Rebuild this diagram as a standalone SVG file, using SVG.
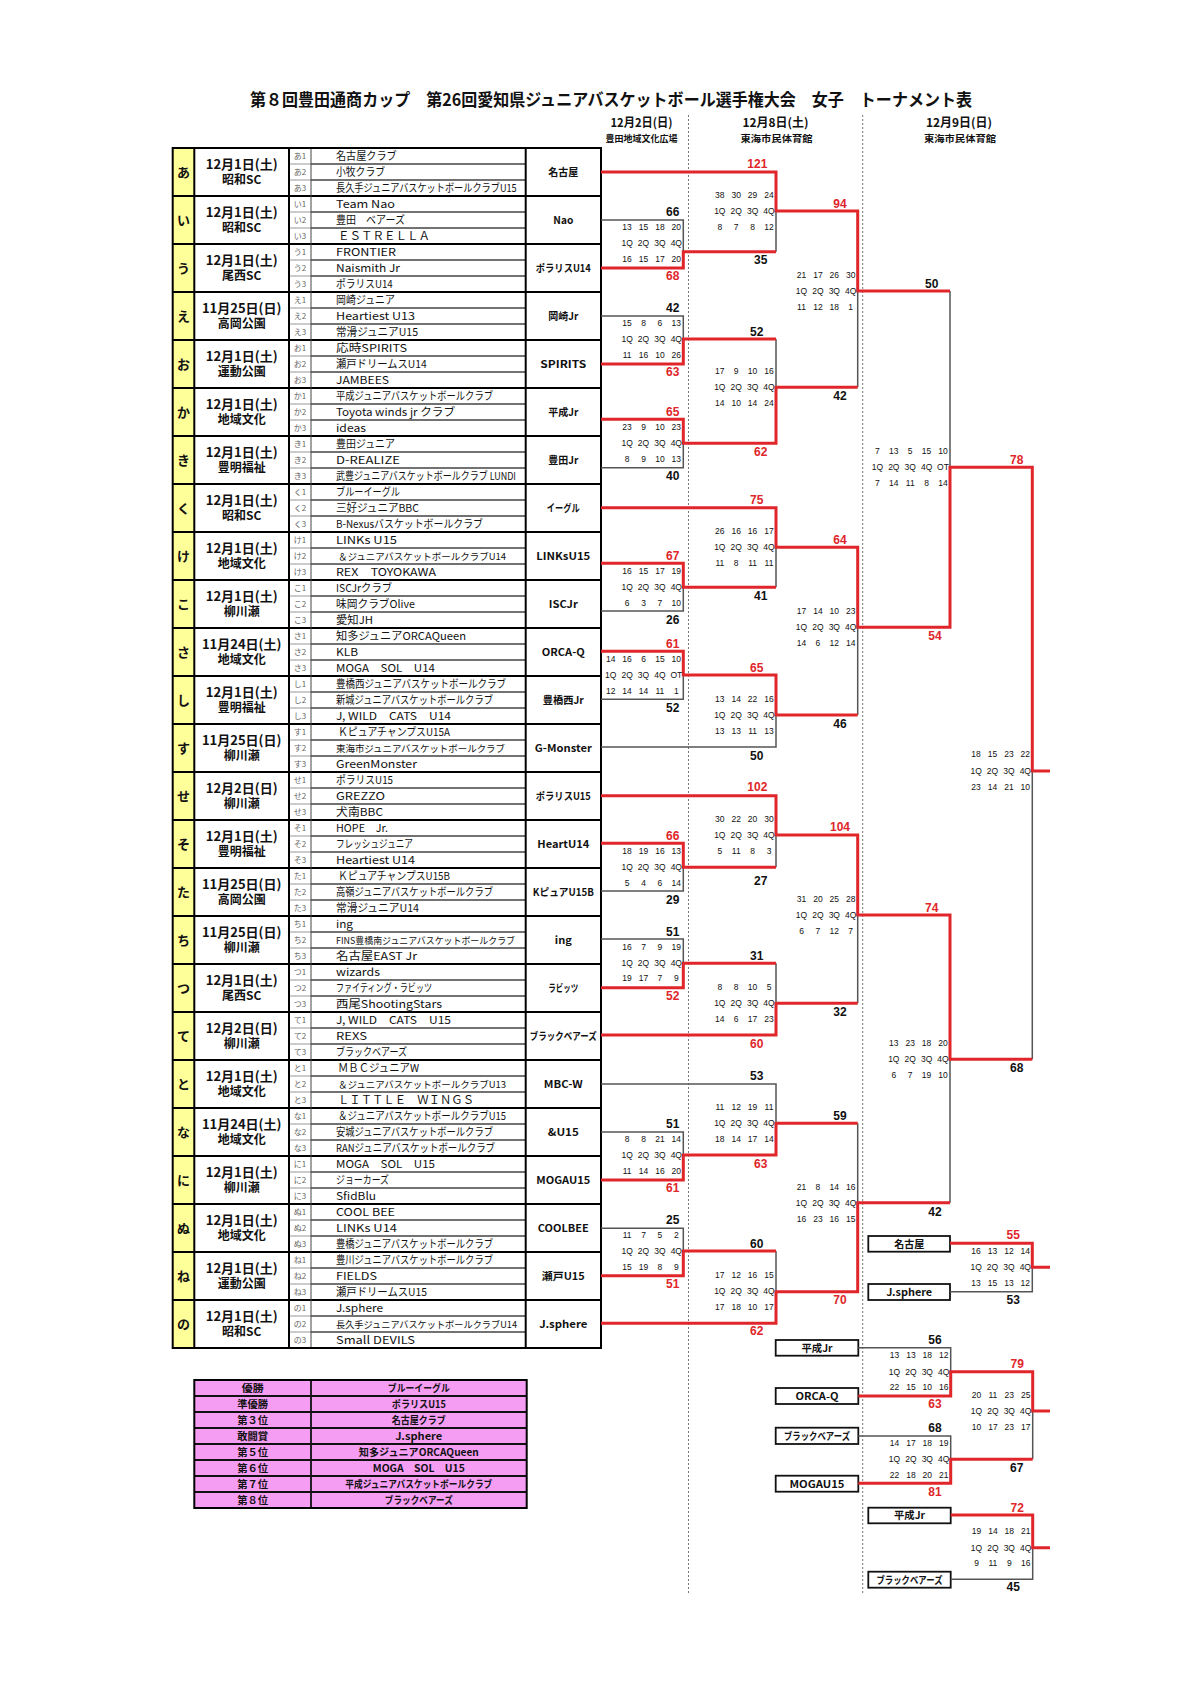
<svg xmlns="http://www.w3.org/2000/svg" width="1190" height="1684" viewBox="0 0 1190 1684">
<style>
text{font-family:"Noto Sans CJK JP","Noto Sans",sans-serif;fill:#111}
.ti{font-size:17px;font-weight:700;text-anchor:middle}
.hd{font-size:12px;font-weight:700;text-anchor:middle}
.hv{font-size:9px;font-weight:700;text-anchor:middle}
.yl{font-size:13px;font-weight:700;text-anchor:middle}
.dt{font-size:13px;font-weight:700;text-anchor:middle}
.vn{font-size:12px}
.cd{font-size:8px;fill:#666;text-anchor:middle}
.nm{font-size:11px}
.nm2{font-size:9.5px}
.ab{font-size:10.5px;font-weight:700;text-anchor:middle}
.rk{font-size:10px;font-weight:700;text-anchor:middle}
.bx{font-size:10px;font-weight:700;text-anchor:middle}
.s{font-family:"Liberation Sans",Arial,sans-serif;font-size:8.5px;fill:#111;text-anchor:middle}
.b{font-family:"Liberation Sans",Arial,sans-serif;font-size:12px;font-weight:700;text-anchor:middle;fill:#111}
.br{font-family:"Liberation Sans",Arial,sans-serif;font-size:12px;font-weight:700;text-anchor:middle;fill:#E0262A}
.lr{fill:none;stroke:#E0262A;stroke-width:3}
.lk{fill:none;stroke:#555;stroke-width:1.5}
.box{fill:#fff;stroke:#111;stroke-width:1.8}
</style>

<g id="header">
<text class="ti" x="611" y="106" textLength="722" lengthAdjust="spacingAndGlyphs">第８回豊田通商カップ　第26回愛知県ジュニアバスケットボール選手権大会　女子　トーナメント表</text>
<text class="hd" x="641.5" y="126.8" textLength="62" lengthAdjust="spacingAndGlyphs">12月2日(日)</text>
<text class="hv" x="641.5" y="141.8" textLength="72" lengthAdjust="spacingAndGlyphs">豊田地域文化広場</text>
<text class="hd" x="775.5" y="126.8" textLength="66" lengthAdjust="spacingAndGlyphs">12月8日(土)</text>
<text class="hv" x="776.5" y="141.8" textLength="72" lengthAdjust="spacingAndGlyphs">東海市民体育館</text>
<text class="hd" x="959" y="126.8" textLength="66" lengthAdjust="spacingAndGlyphs">12月9日(日)</text>
<text class="hv" x="960" y="141.8" textLength="72" lengthAdjust="spacingAndGlyphs">東海市民体育館</text>
<path d="M688.5 115V1595M862.7 115V1595" stroke="#777" stroke-width="1" stroke-dasharray="2 2"/>
</g>

<g id="table-frame">
<rect x="172.7" y="148" width="21.6" height="1200" fill="#FFFF99"/>
<path d="M289 164H311M289 180H311M289 212H311M289 228H311M289 260H311M289 276H311M289 308H311M289 324H311M289 356H311M289 372H311M289 404H311M289 420H311M289 452H311M289 468H311M289 500H311M289 516H311M289 548H311M289 564H311M289 596H311M289 612H311M289 644H311M289 660H311M289 692H311M289 708H311M289 740H311M289 756H311M289 788H311M289 804H311M289 836H311M289 852H311M289 884H311M289 900H311M289 932H311M289 948H311M289 980H311M289 996H311M289 1028H311M289 1044H311M289 1076H311M289 1092H311M289 1124H311M289 1140H311M289 1172H311M289 1188H311M289 1220H311M289 1236H311M289 1268H311M289 1284H311M289 1316H311M289 1332H311" stroke="#999" stroke-width="1" fill="none"/>
<path d="M311 164H525.7M311 180H525.7M311 212H525.7M311 228H525.7M311 260H525.7M311 276H525.7M311 308H525.7M311 324H525.7M311 356H525.7M311 372H525.7M311 404H525.7M311 420H525.7M311 452H525.7M311 468H525.7M311 500H525.7M311 516H525.7M311 548H525.7M311 564H525.7M311 596H525.7M311 612H525.7M311 644H525.7M311 660H525.7M311 692H525.7M311 708H525.7M311 740H525.7M311 756H525.7M311 788H525.7M311 804H525.7M311 836H525.7M311 852H525.7M311 884H525.7M311 900H525.7M311 932H525.7M311 948H525.7M311 980H525.7M311 996H525.7M311 1028H525.7M311 1044H525.7M311 1076H525.7M311 1092H525.7M311 1124H525.7M311 1140H525.7M311 1172H525.7M311 1188H525.7M311 1220H525.7M311 1236H525.7M311 1268H525.7M311 1284H525.7M311 1316H525.7M311 1332H525.7" stroke="#444" stroke-width="1.3" fill="none"/>
<path d="M172.7 196H601M172.7 244H601M172.7 292H601M172.7 340H601M172.7 388H601M172.7 436H601M172.7 484H601M172.7 532H601M172.7 580H601M172.7 628H601M172.7 676H601M172.7 724H601M172.7 772H601M172.7 820H601M172.7 868H601M172.7 916H601M172.7 964H601M172.7 1012H601M172.7 1060H601M172.7 1108H601M172.7 1156H601M172.7 1204H601M172.7 1252H601M172.7 1300H601" stroke="#000" stroke-width="2" fill="none"/>
<path d="M194.3 148V1348M289 148V1348M525.7 148V1348" stroke="#000" stroke-width="2" fill="none"/>
<path d="M311 148V1348" stroke="#444" stroke-width="1" fill="none"/>
<rect x="172.7" y="148" width="428.3" height="1200" fill="none" stroke="#000" stroke-width="2"/>
</g>

<g id="blk-a"><text class="yl" x="183.5" y="176.5">あ</text><text class="dt" x="241.7" y="168.5">12月1日(土)<tspan class="vn" x="241.7" dy="15.5">昭和SC</tspan></text>
<text class="cd" x="300" y="159">あ1</text><text class="cd" x="300" y="175">あ2</text><text class="cd" x="300" y="191">あ3</text>
<text class="nm" x="336" y="160" textLength="60.7" lengthAdjust="spacingAndGlyphs">名古屋クラブ</text><text class="nm" x="336" y="176" textLength="49" lengthAdjust="spacingAndGlyphs">小牧クラブ</text><text class="nm" x="336" y="192" textLength="180.7" lengthAdjust="spacingAndGlyphs">長久手ジュニアバスケットボールクラブU15</text>
<text class="ab" x="563.3" y="176" textLength="30" lengthAdjust="spacingAndGlyphs">名古屋</text></g>

<g id="blk-i"><text class="yl" x="183.5" y="224.5">い</text><text class="dt" x="241.7" y="216.5">12月1日(土)<tspan class="vn" x="241.7" dy="15.5">昭和SC</tspan></text>
<text class="cd" x="300" y="207">い1</text><text class="cd" x="300" y="223">い2</text><text class="cd" x="300" y="239">い3</text>
<text class="nm" x="336" y="208" textLength="59" lengthAdjust="spacingAndGlyphs">Team Nao</text><text class="nm" x="336" y="224" textLength="69" lengthAdjust="spacingAndGlyphs">豊田　ベアーズ</text><text class="nm" x="338" y="240" textLength="92" lengthAdjust="spacingAndGlyphs">ＥＳＴＲＥＬＬＡ</text>
<text class="ab" x="563.3" y="224" textLength="20" lengthAdjust="spacingAndGlyphs">Nao</text></g>

<g id="blk-u"><text class="yl" x="183.5" y="272.5">う</text><text class="dt" x="241.7" y="264.5">12月1日(土)<tspan class="vn" x="241.7" dy="15.5">尾西SC</tspan></text>
<text class="cd" x="300" y="255">う1</text><text class="cd" x="300" y="271">う2</text><text class="cd" x="300" y="287">う3</text>
<text class="nm" x="336" y="256" textLength="60" lengthAdjust="spacingAndGlyphs">FRONTIER</text><text class="nm" x="336" y="272" textLength="64" lengthAdjust="spacingAndGlyphs">Naismith Jr</text><text class="nm" x="336" y="288" textLength="56.7" lengthAdjust="spacingAndGlyphs">ポラリスU14</text>
<text class="ab" x="563.3" y="272" textLength="55" lengthAdjust="spacingAndGlyphs">ポラリスU14</text></g>

<g id="blk-e"><text class="yl" x="183.5" y="320.5">え</text><text class="dt" x="241.7" y="312.5">11月25日(日)<tspan class="vn" x="241.7" dy="15.5">高岡公園</tspan></text>
<text class="cd" x="300" y="303">え1</text><text class="cd" x="300" y="319">え2</text><text class="cd" x="300" y="335">え3</text>
<text class="nm" x="336" y="304" textLength="59" lengthAdjust="spacingAndGlyphs">岡崎ジュニア</text><text class="nm" x="336" y="320" textLength="79" lengthAdjust="spacingAndGlyphs">Heartiest U13</text><text class="nm" x="336" y="336" textLength="82" lengthAdjust="spacingAndGlyphs">常滑ジュニアU15</text>
<text class="ab" x="563.3" y="320" textLength="30" lengthAdjust="spacingAndGlyphs">岡崎Jr</text></g>

<g id="blk-o"><text class="yl" x="183.5" y="368.5">お</text><text class="dt" x="241.7" y="360.5">12月1日(土)<tspan class="vn" x="241.7" dy="15.5">運動公園</tspan></text>
<text class="cd" x="300" y="351">お1</text><text class="cd" x="300" y="367">お2</text><text class="cd" x="300" y="383">お3</text>
<text class="nm" x="336" y="352" textLength="71" lengthAdjust="spacingAndGlyphs">応時SPIRITS</text><text class="nm" x="336" y="368" textLength="90.7" lengthAdjust="spacingAndGlyphs">瀬戸ドリームスU14</text><text class="nm" x="336" y="384" textLength="53" lengthAdjust="spacingAndGlyphs">JAMBEES</text>
<text class="ab" x="563.3" y="368" textLength="46" lengthAdjust="spacingAndGlyphs">SPIRITS</text></g>

<g id="blk-ka"><text class="yl" x="183.5" y="416.5">か</text><text class="dt" x="241.7" y="408.5">12月1日(土)<tspan class="vn" x="241.7" dy="15.5">地域文化</tspan></text>
<text class="cd" x="300" y="399">か1</text><text class="cd" x="300" y="415">か2</text><text class="cd" x="300" y="431">か3</text>
<text class="nm" x="336" y="400" textLength="157" lengthAdjust="spacingAndGlyphs">平成ジュニアバスケットボールクラブ</text><text class="nm" x="336" y="416" textLength="119" lengthAdjust="spacingAndGlyphs">Toyota winds jr クラブ</text><text class="nm" x="336" y="432" textLength="30" lengthAdjust="spacingAndGlyphs">ideas</text>
<text class="ab" x="563.3" y="416" textLength="30" lengthAdjust="spacingAndGlyphs">平成Jr</text></g>

<g id="blk-ki"><text class="yl" x="183.5" y="464.5">き</text><text class="dt" x="241.7" y="456.5">12月1日(土)<tspan class="vn" x="241.7" dy="15.5">豊明福祉</tspan></text>
<text class="cd" x="300" y="447">き1</text><text class="cd" x="300" y="463">き2</text><text class="cd" x="300" y="479">き3</text>
<text class="nm" x="336" y="448" textLength="59" lengthAdjust="spacingAndGlyphs">豊田ジュニア</text><text class="nm" x="336" y="464" textLength="64" lengthAdjust="spacingAndGlyphs">D-REALIZE</text><text class="nm" x="336" y="480" textLength="180" lengthAdjust="spacingAndGlyphs">武豊ジュニアバスケットボールクラブ LUNDI</text>
<text class="ab" x="563.3" y="464" textLength="30" lengthAdjust="spacingAndGlyphs">豊田Jr</text></g>

<g id="blk-ku"><text class="yl" x="183.5" y="512.5">く</text><text class="dt" x="241.7" y="504.5">12月1日(土)<tspan class="vn" x="241.7" dy="15.5">昭和SC</tspan></text>
<text class="cd" x="300" y="495">く1</text><text class="cd" x="300" y="511">く2</text><text class="cd" x="300" y="527">く3</text>
<text class="nm" x="336" y="496" textLength="64" lengthAdjust="spacingAndGlyphs">ブルーイーグル</text><text class="nm" x="336" y="512" textLength="83" lengthAdjust="spacingAndGlyphs">三好ジュニアBBC</text><text class="nm" x="336" y="528" textLength="147" lengthAdjust="spacingAndGlyphs">B-Nexusバスケットボールクラブ</text>
<text class="ab" x="563.3" y="512" textLength="33" lengthAdjust="spacingAndGlyphs">イーグル</text></g>

<g id="blk-ke"><text class="yl" x="183.5" y="560.5">け</text><text class="dt" x="241.7" y="552.5">12月1日(土)<tspan class="vn" x="241.7" dy="15.5">地域文化</tspan></text>
<text class="cd" x="300" y="543">け1</text><text class="cd" x="300" y="559">け2</text><text class="cd" x="300" y="575">け3</text>
<text class="nm" x="336" y="544" textLength="61" lengthAdjust="spacingAndGlyphs">LINKs U15</text><text class="nm2" x="338" y="560" textLength="168" lengthAdjust="spacingAndGlyphs">＆ジュニアバスケットボールクラブU14</text><text class="nm" x="336" y="576" textLength="100" lengthAdjust="spacingAndGlyphs">REX　TOYOKAWA</text>
<text class="ab" x="563.3" y="560" textLength="54" lengthAdjust="spacingAndGlyphs">LINKsU15</text></g>

<g id="blk-ko"><text class="yl" x="183.5" y="608.5">こ</text><text class="dt" x="241.7" y="600.5">12月1日(土)<tspan class="vn" x="241.7" dy="15.5">柳川瀬</tspan></text>
<text class="cd" x="300" y="591">こ1</text><text class="cd" x="300" y="607">こ2</text><text class="cd" x="300" y="623">こ3</text>
<text class="nm" x="336" y="592" textLength="56" lengthAdjust="spacingAndGlyphs">ISCJrクラブ</text><text class="nm" x="336" y="608" textLength="79" lengthAdjust="spacingAndGlyphs">味岡クラブOlive</text><text class="nm" x="336" y="624" textLength="37" lengthAdjust="spacingAndGlyphs">愛知JH</text>
<text class="ab" x="563.3" y="608" textLength="29" lengthAdjust="spacingAndGlyphs">ISCJr</text></g>

<g id="blk-sa"><text class="yl" x="183.5" y="656.5">さ</text><text class="dt" x="241.7" y="648.5">11月24日(土)<tspan class="vn" x="241.7" dy="15.5">地域文化</tspan></text>
<text class="cd" x="300" y="639">さ1</text><text class="cd" x="300" y="655">さ2</text><text class="cd" x="300" y="671">さ3</text>
<text class="nm" x="336" y="640" textLength="130" lengthAdjust="spacingAndGlyphs">知多ジュニアORCAQueen</text><text class="nm" x="336" y="656" textLength="22" lengthAdjust="spacingAndGlyphs">KLB</text><text class="nm" x="336" y="672" textLength="99" lengthAdjust="spacingAndGlyphs">MOGA　SOL　U14</text>
<text class="ab" x="563.3" y="656" textLength="43" lengthAdjust="spacingAndGlyphs">ORCA-Q</text></g>

<g id="blk-shi"><text class="yl" x="183.5" y="704.5">し</text><text class="dt" x="241.7" y="696.5">12月1日(土)<tspan class="vn" x="241.7" dy="15.5">豊明福祉</tspan></text>
<text class="cd" x="300" y="687">し1</text><text class="cd" x="300" y="703">し2</text><text class="cd" x="300" y="719">し3</text>
<text class="nm" x="336" y="688" textLength="170" lengthAdjust="spacingAndGlyphs">豊橋西ジュニアバスケットボールクラブ</text><text class="nm" x="336" y="704" textLength="157" lengthAdjust="spacingAndGlyphs">新城ジュニアバスケットボールクラブ</text><text class="nm" x="336" y="720" textLength="115" lengthAdjust="spacingAndGlyphs">J, WILD　CATS　U14</text>
<text class="ab" x="563.3" y="704" textLength="41" lengthAdjust="spacingAndGlyphs">豊橋西Jr</text></g>

<g id="blk-su"><text class="yl" x="183.5" y="752.5">す</text><text class="dt" x="241.7" y="744.5">11月25日(日)<tspan class="vn" x="241.7" dy="15.5">柳川瀬</tspan></text>
<text class="cd" x="300" y="735">す1</text><text class="cd" x="300" y="751">す2</text><text class="cd" x="300" y="767">す3</text>
<text class="nm" x="338" y="736" textLength="112" lengthAdjust="spacingAndGlyphs">ＫピュアチャンプスU15A</text><text class="nm2" x="336" y="752" textLength="169" lengthAdjust="spacingAndGlyphs">東海市ジュニアバスケットボールクラブ</text><text class="nm" x="336" y="768" textLength="81" lengthAdjust="spacingAndGlyphs">GreenMonster</text>
<text class="ab" x="563.3" y="752" textLength="57" lengthAdjust="spacingAndGlyphs">G-Monster</text></g>

<g id="blk-se"><text class="yl" x="183.5" y="800.5">せ</text><text class="dt" x="241.7" y="792.5">12月2日(日)<tspan class="vn" x="241.7" dy="15.5">柳川瀬</tspan></text>
<text class="cd" x="300" y="783">せ1</text><text class="cd" x="300" y="799">せ2</text><text class="cd" x="300" y="815">せ3</text>
<text class="nm" x="336" y="784" textLength="57" lengthAdjust="spacingAndGlyphs">ポラリスU15</text><text class="nm" x="336" y="800" textLength="49" lengthAdjust="spacingAndGlyphs">GREZZO</text><text class="nm" x="336" y="816" textLength="47" lengthAdjust="spacingAndGlyphs">犬南BBC</text>
<text class="ab" x="563.3" y="800" textLength="55" lengthAdjust="spacingAndGlyphs">ポラリスU15</text></g>

<g id="blk-so"><text class="yl" x="183.5" y="848.5">そ</text><text class="dt" x="241.7" y="840.5">12月1日(土)<tspan class="vn" x="241.7" dy="15.5">豊明福祉</tspan></text>
<text class="cd" x="300" y="831">そ1</text><text class="cd" x="300" y="847">そ2</text><text class="cd" x="300" y="863">そ3</text>
<text class="nm" x="336" y="832" textLength="52" lengthAdjust="spacingAndGlyphs">HOPE　Jr.</text><text class="nm" x="336" y="848" textLength="77" lengthAdjust="spacingAndGlyphs">フレッシュジュニア</text><text class="nm" x="336" y="864" textLength="79" lengthAdjust="spacingAndGlyphs">Heartiest U14</text>
<text class="ab" x="563.3" y="848" textLength="52" lengthAdjust="spacingAndGlyphs">HeartU14</text></g>

<g id="blk-ta"><text class="yl" x="183.5" y="896.5">た</text><text class="dt" x="241.7" y="888.5">11月25日(日)<tspan class="vn" x="241.7" dy="15.5">高岡公園</tspan></text>
<text class="cd" x="300" y="879">た1</text><text class="cd" x="300" y="895">た2</text><text class="cd" x="300" y="911">た3</text>
<text class="nm" x="338" y="880" textLength="112" lengthAdjust="spacingAndGlyphs">ＫピュアチャンプスU15B</text><text class="nm" x="336" y="896" textLength="157" lengthAdjust="spacingAndGlyphs">高嶺ジュニアバスケットボールクラブ</text><text class="nm" x="336" y="912" textLength="83" lengthAdjust="spacingAndGlyphs">常滑ジュニアU14</text>
<text class="ab" x="563.3" y="896" textLength="61" lengthAdjust="spacingAndGlyphs">KピュアU15B</text></g>

<g id="blk-chi"><text class="yl" x="183.5" y="944.5">ち</text><text class="dt" x="241.7" y="936.5">11月25日(日)<tspan class="vn" x="241.7" dy="15.5">柳川瀬</tspan></text>
<text class="cd" x="300" y="927">ち1</text><text class="cd" x="300" y="943">ち2</text><text class="cd" x="300" y="959">ち3</text>
<text class="nm" x="336" y="928" textLength="17" lengthAdjust="spacingAndGlyphs">ing</text><text class="nm2" x="336" y="944" textLength="179" lengthAdjust="spacingAndGlyphs">FINS豊橋南ジュニアバスケットボールクラブ</text><text class="nm" x="336" y="960" textLength="81" lengthAdjust="spacingAndGlyphs">名古屋EAST Jr</text>
<text class="ab" x="563.3" y="944" textLength="17" lengthAdjust="spacingAndGlyphs">ing</text></g>

<g id="blk-tsu"><text class="yl" x="183.5" y="992.5">つ</text><text class="dt" x="241.7" y="984.5">12月1日(土)<tspan class="vn" x="241.7" dy="15.5">尾西SC</tspan></text>
<text class="cd" x="300" y="975">つ1</text><text class="cd" x="300" y="991">つ2</text><text class="cd" x="300" y="1007">つ3</text>
<text class="nm" x="336" y="976" textLength="44" lengthAdjust="spacingAndGlyphs">wizards</text><text class="nm" x="336" y="992" textLength="96" lengthAdjust="spacingAndGlyphs">ファイティング・ラビッツ</text><text class="nm" x="336" y="1008" textLength="106" lengthAdjust="spacingAndGlyphs">西尾ShootingStars</text>
<text class="ab" x="563.3" y="992" textLength="30" lengthAdjust="spacingAndGlyphs">ラビッツ</text></g>

<g id="blk-te"><text class="yl" x="183.5" y="1040.5">て</text><text class="dt" x="241.7" y="1032.5">12月2日(日)<tspan class="vn" x="241.7" dy="15.5">柳川瀬</tspan></text>
<text class="cd" x="300" y="1023">て1</text><text class="cd" x="300" y="1039">て2</text><text class="cd" x="300" y="1055">て3</text>
<text class="nm" x="336" y="1024" textLength="115" lengthAdjust="spacingAndGlyphs">J, WILD　CATS　U15</text><text class="nm" x="336" y="1040" textLength="31" lengthAdjust="spacingAndGlyphs">REXS</text><text class="nm" x="336" y="1056" textLength="71" lengthAdjust="spacingAndGlyphs">ブラックベアーズ</text>
<text class="ab" x="563.3" y="1040" textLength="67" lengthAdjust="spacingAndGlyphs">ブラックベアーズ</text></g>

<g id="blk-to"><text class="yl" x="183.5" y="1088.5">と</text><text class="dt" x="241.7" y="1080.5">12月1日(土)<tspan class="vn" x="241.7" dy="15.5">地域文化</tspan></text>
<text class="cd" x="300" y="1071">と1</text><text class="cd" x="300" y="1087">と2</text><text class="cd" x="300" y="1103">と3</text>
<text class="nm" x="338" y="1072" textLength="81" lengthAdjust="spacingAndGlyphs">ＭＢＣジュニアW</text><text class="nm2" x="338" y="1088" textLength="168" lengthAdjust="spacingAndGlyphs">＆ジュニアバスケットボールクラブU13</text><text class="nm" x="338" y="1104" textLength="136" lengthAdjust="spacingAndGlyphs">ＬＩＴＴＬＥ　ＷＩＮＧＳ</text>
<text class="ab" x="563.3" y="1088" textLength="39" lengthAdjust="spacingAndGlyphs">MBC-W</text></g>

<g id="blk-na"><text class="yl" x="183.5" y="1136.5">な</text><text class="dt" x="241.7" y="1128.5">11月24日(土)<tspan class="vn" x="241.7" dy="15.5">地域文化</tspan></text>
<text class="cd" x="300" y="1119">な1</text><text class="cd" x="300" y="1135">な2</text><text class="cd" x="300" y="1151">な3</text>
<text class="nm" x="338" y="1120" textLength="168" lengthAdjust="spacingAndGlyphs">＆ジュニアバスケットボールクラブU15</text><text class="nm" x="336" y="1136" textLength="157" lengthAdjust="spacingAndGlyphs">安城ジュニアバスケットボールクラブ</text><text class="nm" x="336" y="1152" textLength="159" lengthAdjust="spacingAndGlyphs">RANジュニアバスケットボールクラブ</text>
<text class="ab" x="563.3" y="1136" textLength="31" lengthAdjust="spacingAndGlyphs">&amp;U15</text></g>

<g id="blk-ni"><text class="yl" x="183.5" y="1184.5">に</text><text class="dt" x="241.7" y="1176.5">12月1日(土)<tspan class="vn" x="241.7" dy="15.5">柳川瀬</tspan></text>
<text class="cd" x="300" y="1167">に1</text><text class="cd" x="300" y="1183">に2</text><text class="cd" x="300" y="1199">に3</text>
<text class="nm" x="336" y="1168" textLength="99" lengthAdjust="spacingAndGlyphs">MOGA　SOL　U15</text><text class="nm" x="336" y="1184" textLength="53" lengthAdjust="spacingAndGlyphs">ジョーカーズ</text><text class="nm" x="336" y="1200" textLength="40" lengthAdjust="spacingAndGlyphs">SfidBlu</text>
<text class="ab" x="563.3" y="1184" textLength="54" lengthAdjust="spacingAndGlyphs">MOGAU15</text></g>

<g id="blk-nu"><text class="yl" x="183.5" y="1232.5">ぬ</text><text class="dt" x="241.7" y="1224.5">12月1日(土)<tspan class="vn" x="241.7" dy="15.5">地域文化</tspan></text>
<text class="cd" x="300" y="1215">ぬ1</text><text class="cd" x="300" y="1231">ぬ2</text><text class="cd" x="300" y="1247">ぬ3</text>
<text class="nm" x="336" y="1216" textLength="59" lengthAdjust="spacingAndGlyphs">COOL BEE</text><text class="nm" x="336" y="1232" textLength="61" lengthAdjust="spacingAndGlyphs">LINKs U14</text><text class="nm" x="336" y="1248" textLength="157" lengthAdjust="spacingAndGlyphs">豊橋ジュニアバスケットボールクラブ</text>
<text class="ab" x="563.3" y="1232" textLength="51" lengthAdjust="spacingAndGlyphs">COOLBEE</text></g>

<g id="blk-ne"><text class="yl" x="183.5" y="1280.5">ね</text><text class="dt" x="241.7" y="1272.5">12月1日(土)<tspan class="vn" x="241.7" dy="15.5">運動公園</tspan></text>
<text class="cd" x="300" y="1263">ね1</text><text class="cd" x="300" y="1279">ね2</text><text class="cd" x="300" y="1295">ね3</text>
<text class="nm" x="336" y="1264" textLength="157" lengthAdjust="spacingAndGlyphs">豊川ジュニアバスケットボールクラブ</text><text class="nm" x="336" y="1280" textLength="41" lengthAdjust="spacingAndGlyphs">FIELDS</text><text class="nm" x="336" y="1296" textLength="91" lengthAdjust="spacingAndGlyphs">瀬戸ドリームスU15</text>
<text class="ab" x="563.3" y="1280" textLength="43" lengthAdjust="spacingAndGlyphs">瀬戸U15</text></g>

<g id="blk-no"><text class="yl" x="183.5" y="1328.5">の</text><text class="dt" x="241.7" y="1320.5">12月1日(土)<tspan class="vn" x="241.7" dy="15.5">昭和SC</tspan></text>
<text class="cd" x="300" y="1311">の1</text><text class="cd" x="300" y="1327">の2</text><text class="cd" x="300" y="1343">の3</text>
<text class="nm" x="336" y="1312" textLength="47" lengthAdjust="spacingAndGlyphs">J.sphere</text><text class="nm2" x="336" y="1328" textLength="181" lengthAdjust="spacingAndGlyphs">長久手ジュニアバスケットボールクラブU14</text><text class="nm" x="336" y="1344" textLength="79" lengthAdjust="spacingAndGlyphs">Small DEVILS</text>
<text class="ab" x="563.3" y="1328" textLength="48" lengthAdjust="spacingAndGlyphs">J.sphere</text></g>

<g id="ranking">
<rect x="194.3" y="1380" width="332.4" height="128" fill="#F59CF3"/>
<path d="M194.3 1396H526.7M194.3 1412H526.7M194.3 1428H526.7M194.3 1444H526.7M194.3 1460H526.7M194.3 1476H526.7M194.3 1492H526.7M311 1380V1508" stroke="#111" stroke-width="1.8" fill="none"/>
<rect x="194.3" y="1380" width="332.4" height="128" fill="none" stroke="#000" stroke-width="2"/>
<text class="rk" x="252.7" y="1391.5" textLength="22" lengthAdjust="spacingAndGlyphs">優勝</text><text class="rk" x="418.8" y="1391.5" textLength="62" lengthAdjust="spacingAndGlyphs">ブルーイーグル</text>
<text class="rk" x="252.7" y="1407.5" textLength="31" lengthAdjust="spacingAndGlyphs">準優勝</text><text class="rk" x="418.8" y="1407.5" textLength="54" lengthAdjust="spacingAndGlyphs">ポラリスU15</text>
<text class="rk" x="252.7" y="1423.5" textLength="31" lengthAdjust="spacingAndGlyphs">第３位</text><text class="rk" x="418.8" y="1423.5" textLength="54" lengthAdjust="spacingAndGlyphs">名古屋クラブ</text>
<text class="rk" x="252.7" y="1439.5" textLength="31" lengthAdjust="spacingAndGlyphs">敢闘賞</text><text class="rk" x="418.8" y="1439.5" textLength="47" lengthAdjust="spacingAndGlyphs">J.sphere</text>
<text class="rk" x="252.7" y="1455.5" textLength="31" lengthAdjust="spacingAndGlyphs">第５位</text><text class="rk" x="418.8" y="1455.5" textLength="120" lengthAdjust="spacingAndGlyphs">知多ジュニアORCAQueen</text>
<text class="rk" x="252.7" y="1471.5" textLength="31" lengthAdjust="spacingAndGlyphs">第６位</text><text class="rk" x="418.8" y="1471.5" textLength="92" lengthAdjust="spacingAndGlyphs">MOGA　SOL　U15</text>
<text class="rk" x="252.7" y="1487.5" textLength="31" lengthAdjust="spacingAndGlyphs">第７位</text><text class="rk" x="418.8" y="1487.5" textLength="147" lengthAdjust="spacingAndGlyphs">平成ジュニアバスケットボールクラブ</text>
<text class="rk" x="252.7" y="1503.5" textLength="31" lengthAdjust="spacingAndGlyphs">第８位</text><text class="rk" x="418.8" y="1503.5" textLength="68" lengthAdjust="spacingAndGlyphs">ブラックベアーズ</text>
</g>

<g id="placement-boxes">
<g id="pb-nagoya"><rect class="box" x="868.3" y="1236" width="81.7" height="15.7"/><text class="bx" x="909.2" y="1247.5" textLength="30" lengthAdjust="spacingAndGlyphs">名古屋</text></g>
<g id="pb-jsphere"><rect class="box" x="868.3" y="1284" width="81.7" height="16"/><text class="bx" x="909.2" y="1295.8" textLength="46" lengthAdjust="spacingAndGlyphs">J.sphere</text></g>
<g id="pb-heisei1"><rect class="box" x="775.7" y="1340" width="82.6" height="15.7"/><text class="bx" x="817" y="1351.7" textLength="31" lengthAdjust="spacingAndGlyphs">平成Jr</text></g>
<g id="pb-orca"><rect class="box" x="775.7" y="1388" width="82.6" height="16"/><text class="bx" x="817" y="1399.8" textLength="43" lengthAdjust="spacingAndGlyphs">ORCA-Q</text></g>
<g id="pb-bb1"><rect class="box" x="775.7" y="1427.7" width="82.6" height="16.3"/><text class="bx" x="817" y="1439.8" textLength="66" lengthAdjust="spacingAndGlyphs">ブラックベアーズ</text></g>
<g id="pb-moga"><rect class="box" x="775.7" y="1475.7" width="82.6" height="16"/><text class="bx" x="817" y="1487.5" textLength="55" lengthAdjust="spacingAndGlyphs">MOGAU15</text></g>
<g id="pb-heisei2"><rect class="box" x="868.3" y="1507.7" width="82.4" height="15.6"/><text class="bx" x="909.5" y="1519.3" textLength="31" lengthAdjust="spacingAndGlyphs">平成Jr</text></g>
<g id="pb-bb2"><rect class="box" x="868.3" y="1571.7" width="82.4" height="16"/><text class="bx" x="909.5" y="1583.5" textLength="66" lengthAdjust="spacingAndGlyphs">ブラックベアーズ</text></g>
</g>

<g id="connectors">
<path class="lk" d="M601 220H683.3V251.7M776 211V251.7M601 316H683.3V339M776 339V387.3M857.7 291V387.3M950 291V467.3M601 467.7H683.3V443.3M601 611H683.3V587.3M776 547.3V587.3M601 699.3H683.3V675M601 747H776V715M857.7 627.3V715M601 891H683.3V867.3M776 835V867.3M857.7 915V1003.3M601 939H683.3V963.3M776 963.3V1003.3M601 1084H776V1123.3M857.7 1123.3V1202.7M601 1132H683.3V1155M950 1059.3V1202.7M601 1228.3H683.3V1251M776 1251V1291.7M1032.3 771V1059.3M950 1291.7H1032.3V1267.3M858.3 1347.7H950.7V1371.7M858.3 1436H950.7V1459.3M1032.7 1411V1459.3M950.7 1579.3H1032.7V1547.7"/>
<path class="lr" d="M601 172H776V211H857.7V291H950"/>
<path class="lr" d="M601 268H683.3V251.7H776"/>
<path class="lr" d="M601 364H683.3V339H776"/>
<path class="lr" d="M601 419.3H683.3V443.3H776V387.3H857.7"/>
<path class="lr" d="M601 507.7H776V547.3H857.7V627.3H950V467.3H1032.3V771H1050"/>
<path class="lr" d="M601 563.3H683.3V587.3H776"/>
<path class="lr" d="M601 651.3H683.3V675H776V715H857.7"/>
<path class="lr" d="M601 795.7H776V835H857.7V915H950V1059.3H1032.3"/>
<path class="lr" d="M601 843.3H683.3V867.3H776"/>
<path class="lr" d="M601 987.7H683.3V963.3H776"/>
<path class="lr" d="M601 1035H776V1003.3H857.7"/>
<path class="lr" d="M601 1180H683.3V1155H776V1123.3H857.7"/>
<path class="lr" d="M601 1275.7H683.3V1251H776"/>
<path class="lr" d="M601 1323.3H776V1291.7H857.7V1202.7H950"/>
<path class="lr" d="M950 1243.3H1032.3V1267.3H1050"/>
<path class="lr" d="M858.3 1396H950.7V1371.7H1032.7V1411H1050"/>
<path class="lr" d="M858.3 1483.3H950.7V1459.3H1032.7"/>
<path class="lr" d="M950.7 1515H1032.7V1547.7H1050"/>
</g>

<g id="quarter-scores">
<text class="s" y="229.7"><tspan x="627.1">13</tspan><tspan x="643.5">15</tspan><tspan x="659.9">18</tspan><tspan x="676.3">20</tspan></text>
<text class="s" y="246.3"><tspan x="627.1">1Q</tspan><tspan x="643.5">2Q</tspan><tspan x="659.9">3Q</tspan><tspan x="676.3">4Q</tspan></text>
<text class="s" y="261.7"><tspan x="627.1">16</tspan><tspan x="643.5">15</tspan><tspan x="659.9">17</tspan><tspan x="676.3">20</tspan></text>
<text class="s" y="325.7"><tspan x="627.1">15</tspan><tspan x="643.5">8</tspan><tspan x="659.9">6</tspan><tspan x="676.3">13</tspan></text>
<text class="s" y="342"><tspan x="627.1">1Q</tspan><tspan x="643.5">2Q</tspan><tspan x="659.9">3Q</tspan><tspan x="676.3">4Q</tspan></text>
<text class="s" y="357.7"><tspan x="627.1">11</tspan><tspan x="643.5">16</tspan><tspan x="659.9">10</tspan><tspan x="676.3">26</tspan></text>
<text class="s" y="429.7"><tspan x="627.1">23</tspan><tspan x="643.5">9</tspan><tspan x="659.9">10</tspan><tspan x="676.3">23</tspan></text>
<text class="s" y="446.3"><tspan x="627.1">1Q</tspan><tspan x="643.5">2Q</tspan><tspan x="659.9">3Q</tspan><tspan x="676.3">4Q</tspan></text>
<text class="s" y="461.7"><tspan x="627.1">8</tspan><tspan x="643.5">9</tspan><tspan x="659.9">10</tspan><tspan x="676.3">13</tspan></text>
<text class="s" y="574"><tspan x="627.1">16</tspan><tspan x="643.5">15</tspan><tspan x="659.9">17</tspan><tspan x="676.3">19</tspan></text>
<text class="s" y="590.3"><tspan x="627.1">1Q</tspan><tspan x="643.5">2Q</tspan><tspan x="659.9">3Q</tspan><tspan x="676.3">4Q</tspan></text>
<text class="s" y="605.7"><tspan x="627.1">6</tspan><tspan x="643.5">3</tspan><tspan x="659.9">7</tspan><tspan x="676.3">10</tspan></text>
<text class="s" y="662"><tspan x="610.7">14</tspan><tspan x="627.1">16</tspan><tspan x="643.5">6</tspan><tspan x="659.9">15</tspan><tspan x="676.3">10</tspan></text>
<text class="s" y="678"><tspan x="610.7">1Q</tspan><tspan x="627.1">2Q</tspan><tspan x="643.5">3Q</tspan><tspan x="659.9">4Q</tspan><tspan x="676.3">OT</tspan></text>
<text class="s" y="693.7"><tspan x="610.7">12</tspan><tspan x="627.1">14</tspan><tspan x="643.5">14</tspan><tspan x="659.9">11</tspan><tspan x="676.3">1</tspan></text>
<text class="s" y="853.7"><tspan x="627.1">18</tspan><tspan x="643.5">19</tspan><tspan x="659.9">16</tspan><tspan x="676.3">13</tspan></text>
<text class="s" y="870.3"><tspan x="627.1">1Q</tspan><tspan x="643.5">2Q</tspan><tspan x="659.9">3Q</tspan><tspan x="676.3">4Q</tspan></text>
<text class="s" y="885.7"><tspan x="627.1">5</tspan><tspan x="643.5">4</tspan><tspan x="659.9">6</tspan><tspan x="676.3">14</tspan></text>
<text class="s" y="949.7"><tspan x="627.1">16</tspan><tspan x="643.5">7</tspan><tspan x="659.9">9</tspan><tspan x="676.3">19</tspan></text>
<text class="s" y="966.3"><tspan x="627.1">1Q</tspan><tspan x="643.5">2Q</tspan><tspan x="659.9">3Q</tspan><tspan x="676.3">4Q</tspan></text>
<text class="s" y="981.3"><tspan x="627.1">19</tspan><tspan x="643.5">17</tspan><tspan x="659.9">7</tspan><tspan x="676.3">9</tspan></text>
<text class="s" y="1142"><tspan x="627.1">8</tspan><tspan x="643.5">8</tspan><tspan x="659.9">21</tspan><tspan x="676.3">14</tspan></text>
<text class="s" y="1158"><tspan x="627.1">1Q</tspan><tspan x="643.5">2Q</tspan><tspan x="659.9">3Q</tspan><tspan x="676.3">4Q</tspan></text>
<text class="s" y="1174"><tspan x="627.1">11</tspan><tspan x="643.5">14</tspan><tspan x="659.9">16</tspan><tspan x="676.3">20</tspan></text>
<text class="s" y="1237.7"><tspan x="627.1">11</tspan><tspan x="643.5">7</tspan><tspan x="659.9">5</tspan><tspan x="676.3">2</tspan></text>
<text class="s" y="1254"><tspan x="627.1">1Q</tspan><tspan x="643.5">2Q</tspan><tspan x="659.9">3Q</tspan><tspan x="676.3">4Q</tspan></text>
<text class="s" y="1269.7"><tspan x="627.1">15</tspan><tspan x="643.5">19</tspan><tspan x="659.9">8</tspan><tspan x="676.3">9</tspan></text>

<text class="s" y="198"><tspan x="719.8">38</tspan><tspan x="736.2">30</tspan><tspan x="752.6">29</tspan><tspan x="769">24</tspan></text>
<text class="s" y="214"><tspan x="719.8">1Q</tspan><tspan x="736.2">2Q</tspan><tspan x="752.6">3Q</tspan><tspan x="769">4Q</tspan></text>
<text class="s" y="229.7"><tspan x="719.8">8</tspan><tspan x="736.2">7</tspan><tspan x="752.6">8</tspan><tspan x="769">12</tspan></text>
<text class="s" y="374"><tspan x="719.8">17</tspan><tspan x="736.2">9</tspan><tspan x="752.6">10</tspan><tspan x="769">16</tspan></text>
<text class="s" y="390.3"><tspan x="719.8">1Q</tspan><tspan x="736.2">2Q</tspan><tspan x="752.6">3Q</tspan><tspan x="769">4Q</tspan></text>
<text class="s" y="405.7"><tspan x="719.8">14</tspan><tspan x="736.2">10</tspan><tspan x="752.6">14</tspan><tspan x="769">24</tspan></text>
<text class="s" y="533.7"><tspan x="719.8">26</tspan><tspan x="736.2">16</tspan><tspan x="752.6">16</tspan><tspan x="769">17</tspan></text>
<text class="s" y="550.3"><tspan x="719.8">1Q</tspan><tspan x="736.2">2Q</tspan><tspan x="752.6">3Q</tspan><tspan x="769">4Q</tspan></text>
<text class="s" y="565.7"><tspan x="719.8">11</tspan><tspan x="736.2">8</tspan><tspan x="752.6">11</tspan><tspan x="769">11</tspan></text>
<text class="s" y="702"><tspan x="719.8">13</tspan><tspan x="736.2">14</tspan><tspan x="752.6">22</tspan><tspan x="769">16</tspan></text>
<text class="s" y="718"><tspan x="719.8">1Q</tspan><tspan x="736.2">2Q</tspan><tspan x="752.6">3Q</tspan><tspan x="769">4Q</tspan></text>
<text class="s" y="733.7"><tspan x="719.8">13</tspan><tspan x="736.2">13</tspan><tspan x="752.6">11</tspan><tspan x="769">13</tspan></text>
<text class="s" y="821.7"><tspan x="719.8">30</tspan><tspan x="736.2">22</tspan><tspan x="752.6">20</tspan><tspan x="769">30</tspan></text>
<text class="s" y="838"><tspan x="719.8">1Q</tspan><tspan x="736.2">2Q</tspan><tspan x="752.6">3Q</tspan><tspan x="769">4Q</tspan></text>
<text class="s" y="853.7"><tspan x="719.8">5</tspan><tspan x="736.2">11</tspan><tspan x="752.6">8</tspan><tspan x="769">3</tspan></text>
<text class="s" y="989.7"><tspan x="719.8">8</tspan><tspan x="736.2">8</tspan><tspan x="752.6">10</tspan><tspan x="769">5</tspan></text>
<text class="s" y="1006.3"><tspan x="719.8">1Q</tspan><tspan x="736.2">2Q</tspan><tspan x="752.6">3Q</tspan><tspan x="769">4Q</tspan></text>
<text class="s" y="1022"><tspan x="719.8">14</tspan><tspan x="736.2">6</tspan><tspan x="752.6">17</tspan><tspan x="769">23</tspan></text>
<text class="s" y="1110"><tspan x="719.8">11</tspan><tspan x="736.2">12</tspan><tspan x="752.6">19</tspan><tspan x="769">11</tspan></text>
<text class="s" y="1126.3"><tspan x="719.8">1Q</tspan><tspan x="736.2">2Q</tspan><tspan x="752.6">3Q</tspan><tspan x="769">4Q</tspan></text>
<text class="s" y="1142"><tspan x="719.8">18</tspan><tspan x="736.2">14</tspan><tspan x="752.6">17</tspan><tspan x="769">14</tspan></text>
<text class="s" y="1277.7"><tspan x="719.8">17</tspan><tspan x="736.2">12</tspan><tspan x="752.6">16</tspan><tspan x="769">15</tspan></text>
<text class="s" y="1294"><tspan x="719.8">1Q</tspan><tspan x="736.2">2Q</tspan><tspan x="752.6">3Q</tspan><tspan x="769">4Q</tspan></text>
<text class="s" y="1309.7"><tspan x="719.8">17</tspan><tspan x="736.2">18</tspan><tspan x="752.6">10</tspan><tspan x="769">17</tspan></text>

<text class="s" y="278"><tspan x="801.5">21</tspan><tspan x="817.9">17</tspan><tspan x="834.3">26</tspan><tspan x="850.7">30</tspan></text>
<text class="s" y="294"><tspan x="801.5">1Q</tspan><tspan x="817.9">2Q</tspan><tspan x="834.3">3Q</tspan><tspan x="850.7">4Q</tspan></text>
<text class="s" y="310"><tspan x="801.5">11</tspan><tspan x="817.9">12</tspan><tspan x="834.3">18</tspan><tspan x="850.7">1</tspan></text>
<text class="s" y="614"><tspan x="801.5">17</tspan><tspan x="817.9">14</tspan><tspan x="834.3">10</tspan><tspan x="850.7">23</tspan></text>
<text class="s" y="630.3"><tspan x="801.5">1Q</tspan><tspan x="817.9">2Q</tspan><tspan x="834.3">3Q</tspan><tspan x="850.7">4Q</tspan></text>
<text class="s" y="645.7"><tspan x="801.5">14</tspan><tspan x="817.9">6</tspan><tspan x="834.3">12</tspan><tspan x="850.7">14</tspan></text>
<text class="s" y="902"><tspan x="801.5">31</tspan><tspan x="817.9">20</tspan><tspan x="834.3">25</tspan><tspan x="850.7">28</tspan></text>
<text class="s" y="918"><tspan x="801.5">1Q</tspan><tspan x="817.9">2Q</tspan><tspan x="834.3">3Q</tspan><tspan x="850.7">4Q</tspan></text>
<text class="s" y="933.7"><tspan x="801.5">6</tspan><tspan x="817.9">7</tspan><tspan x="834.3">12</tspan><tspan x="850.7">7</tspan></text>
<text class="s" y="1189.7"><tspan x="801.5">21</tspan><tspan x="817.9">8</tspan><tspan x="834.3">14</tspan><tspan x="850.7">16</tspan></text>
<text class="s" y="1205.7"><tspan x="801.5">1Q</tspan><tspan x="817.9">2Q</tspan><tspan x="834.3">3Q</tspan><tspan x="850.7">4Q</tspan></text>
<text class="s" y="1222"><tspan x="801.5">16</tspan><tspan x="817.9">23</tspan><tspan x="834.3">16</tspan><tspan x="850.7">15</tspan></text>

<text class="s" y="453.7"><tspan x="877.4">7</tspan><tspan x="893.8">13</tspan><tspan x="910.2">5</tspan><tspan x="926.6">15</tspan><tspan x="943">10</tspan></text>
<text class="s" y="470.3"><tspan x="877.4">1Q</tspan><tspan x="893.8">2Q</tspan><tspan x="910.2">3Q</tspan><tspan x="926.6">4Q</tspan><tspan x="943">OT</tspan></text>
<text class="s" y="485.7"><tspan x="877.4">7</tspan><tspan x="893.8">14</tspan><tspan x="910.2">11</tspan><tspan x="926.6">8</tspan><tspan x="943">14</tspan></text>
<text class="s" y="1045.7"><tspan x="893.8">13</tspan><tspan x="910.2">23</tspan><tspan x="926.6">18</tspan><tspan x="943">20</tspan></text>
<text class="s" y="1062.3"><tspan x="893.8">1Q</tspan><tspan x="910.2">2Q</tspan><tspan x="926.6">3Q</tspan><tspan x="943">4Q</tspan></text>
<text class="s" y="1078"><tspan x="893.8">6</tspan><tspan x="910.2">7</tspan><tspan x="926.6">19</tspan><tspan x="943">10</tspan></text>
<text class="s" y="1358"><tspan x="894.5">13</tspan><tspan x="910.9">13</tspan><tspan x="927.3">18</tspan><tspan x="943.7">12</tspan></text>
<text class="s" y="1374.7"><tspan x="894.5">1Q</tspan><tspan x="910.9">2Q</tspan><tspan x="927.3">3Q</tspan><tspan x="943.7">4Q</tspan></text>
<text class="s" y="1389.7"><tspan x="894.5">22</tspan><tspan x="910.9">15</tspan><tspan x="927.3">10</tspan><tspan x="943.7">16</tspan></text>
<text class="s" y="1445.7"><tspan x="894.5">14</tspan><tspan x="910.9">17</tspan><tspan x="927.3">18</tspan><tspan x="943.7">19</tspan></text>
<text class="s" y="1462.3"><tspan x="894.5">1Q</tspan><tspan x="910.9">2Q</tspan><tspan x="927.3">3Q</tspan><tspan x="943.7">4Q</tspan></text>
<text class="s" y="1478"><tspan x="894.5">22</tspan><tspan x="910.9">18</tspan><tspan x="927.3">20</tspan><tspan x="943.7">21</tspan></text>

<text class="s" y="757.3"><tspan x="976.1">18</tspan><tspan x="992.5">15</tspan><tspan x="1008.9">23</tspan><tspan x="1025.3">22</tspan></text>
<text class="s" y="774"><tspan x="976.1">1Q</tspan><tspan x="992.5">2Q</tspan><tspan x="1008.9">3Q</tspan><tspan x="1025.3">4Q</tspan></text>
<text class="s" y="789.7"><tspan x="976.1">23</tspan><tspan x="992.5">14</tspan><tspan x="1008.9">21</tspan><tspan x="1025.3">10</tspan></text>
<text class="s" y="1253.7"><tspan x="976.1">16</tspan><tspan x="992.5">13</tspan><tspan x="1008.9">12</tspan><tspan x="1025.3">14</tspan></text>
<text class="s" y="1270.3"><tspan x="976.1">1Q</tspan><tspan x="992.5">2Q</tspan><tspan x="1008.9">3Q</tspan><tspan x="1025.3">4Q</tspan></text>
<text class="s" y="1285.7"><tspan x="976.1">13</tspan><tspan x="992.5">15</tspan><tspan x="1008.9">13</tspan><tspan x="1025.3">12</tspan></text>
<text class="s" y="1398"><tspan x="976.5">20</tspan><tspan x="992.9">11</tspan><tspan x="1009.3">23</tspan><tspan x="1025.7">25</tspan></text>
<text class="s" y="1414"><tspan x="976.5">1Q</tspan><tspan x="992.9">2Q</tspan><tspan x="1009.3">3Q</tspan><tspan x="1025.7">4Q</tspan></text>
<text class="s" y="1429.7"><tspan x="976.5">10</tspan><tspan x="992.9">17</tspan><tspan x="1009.3">23</tspan><tspan x="1025.7">17</tspan></text>
<text class="s" y="1534"><tspan x="976.5">19</tspan><tspan x="992.9">14</tspan><tspan x="1009.3">18</tspan><tspan x="1025.7">21</tspan></text>
<text class="s" y="1550.7"><tspan x="976.5">1Q</tspan><tspan x="992.9">2Q</tspan><tspan x="1009.3">3Q</tspan><tspan x="1025.7">4Q</tspan></text>
<text class="s" y="1565.7"><tspan x="976.5">9</tspan><tspan x="992.9">11</tspan><tspan x="1009.3">9</tspan><tspan x="1025.7">16</tspan></text>
</g>

<g id="totals">
<text class="b" x="672.7" y="215.6">66</text><text class="br" x="672.7" y="279.6">68</text>
<text class="b" x="672.7" y="312">42</text><text class="br" x="672.7" y="376">63</text>
<text class="br" x="672.7" y="416">65</text><text class="b" x="672.7" y="480">40</text>
<text class="br" x="672.7" y="559.6">67</text><text class="b" x="672.7" y="623.6">26</text>
<text class="br" x="672.7" y="648">61</text><text class="b" x="672.7" y="711.6">52</text>
<text class="br" x="672.7" y="839.6">66</text><text class="b" x="672.7" y="903.6">29</text>
<text class="b" x="672.7" y="936">51</text><text class="br" x="672.7" y="1000">52</text>
<text class="b" x="672.7" y="1128">51</text><text class="br" x="672.7" y="1192">61</text>
<text class="b" x="672.7" y="1224.3">25</text><text class="br" x="672.7" y="1288">51</text>
<text class="br" x="757.3" y="167.6">121</text><text class="b" x="760.7" y="263.6">35</text>
<text class="b" x="756.7" y="336">52</text><text class="br" x="760.7" y="456">62</text>
<text class="br" x="756.7" y="503.6">75</text><text class="b" x="760.7" y="599.6">41</text>
<text class="br" x="756.7" y="671.6">65</text><text class="b" x="756.7" y="759.6">50</text>
<text class="br" x="757.3" y="791.3">102</text><text class="b" x="760.7" y="884.6">27</text>
<text class="b" x="756.7" y="960">31</text><text class="br" x="756.7" y="1048">60</text>
<text class="b" x="756.7" y="1080">53</text><text class="br" x="760.7" y="1168">63</text>
<text class="b" x="756.7" y="1247.6">60</text><text class="br" x="756.7" y="1335.3">62</text>
<text class="br" x="840" y="208">94</text><text class="b" x="840" y="400">42</text>
<text class="br" x="840" y="543.6">64</text><text class="b" x="840" y="727.6">46</text>
<text class="br" x="840" y="831.3">104</text><text class="b" x="840" y="1016">32</text>
<text class="b" x="840" y="1119.6">59</text><text class="br" x="840" y="1303.6">70</text>
<text class="b" x="931.7" y="287.6">50</text><text class="br" x="935" y="640">54</text>
<text class="br" x="931.7" y="912">74</text><text class="b" x="935" y="1216">42</text>
<text class="br" x="1016.7" y="463.6">78</text><text class="b" x="1016.7" y="1072">68</text>
<text class="br" x="1013.3" y="1239.3">55</text><text class="b" x="1013.3" y="1303.6">53</text>
<text class="b" x="935" y="1344.3">56</text><text class="br" x="935" y="1408.3">63</text>
<text class="b" x="935" y="1432">68</text><text class="br" x="935" y="1496">81</text>
<text class="br" x="1017.3" y="1367.6">79</text><text class="b" x="1016.7" y="1472">67</text>
<text class="br" x="1017.3" y="1512">72</text><text class="b" x="1013.3" y="1591">45</text>
</g>
</svg>
